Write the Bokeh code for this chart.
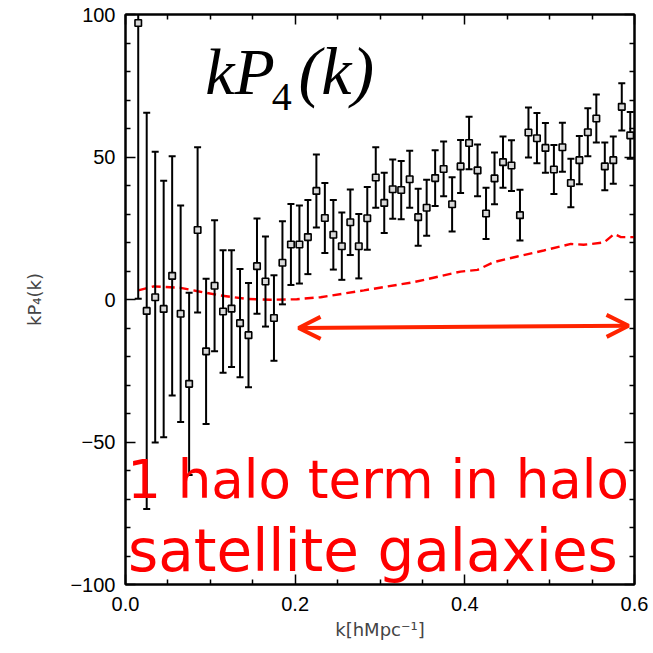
from bokeh.plotting import figure
from bokeh.models import Range1d, LinearAxis, FixedTicker, Label, Arrow, OpenHead
from bokeh.embed import file_html
from bokeh.resources import INLINE

# Measured hexadecapole, k*P4(k), with 1-sigma errors
k_vals = [0.015, 0.025, 0.035, 0.045, 0.055, 0.065, 0.075, 0.085, 0.095, 0.105,
          0.115, 0.125, 0.135, 0.145, 0.155, 0.165, 0.175, 0.185, 0.195, 0.205,
          0.215, 0.225, 0.235, 0.245, 0.255, 0.265, 0.275, 0.285, 0.295, 0.305,
          0.315, 0.325, 0.335, 0.345, 0.355, 0.365, 0.375, 0.385, 0.395, 0.405,
          0.415, 0.425, 0.435, 0.445, 0.455, 0.465, 0.475, 0.485, 0.495, 0.505,
          0.515, 0.525, 0.535, 0.545, 0.555, 0.565, 0.575, 0.585, 0.595]
kp4_vals = [97.0, -4.0, 0.8, -3.3, 8.3, -5.0, -29.6, 24.4, -18.2, 4.8,
            -4.2, -3.2, -8.3, -12.5, 11.7, 6.3, -6.5, 12.9, 19.3, 19.3,
            21.9, 38.1, 28.6, 22.7, 18.7, 27.1, 18.7, 28.5, 42.8, 33.9,
            38.7, 38.4, 42.2, 28.9, 32.2, 42.6, 45.8, 33.4, 46.7, 54.9,
            45.3, 30.2, 42.5, 48.2, 47.0, 29.6, 58.6, 56.6, 53.2, 45.6,
            53.4, 40.9, 48.9, 58.7, 63.5, 46.7, 48.9, 67.6, 57.6]
kp4_errs = [96.7, 69.5, 51.0, 45.0, 42.0, 38.0, 32.0, 29.0, 25.5, 23.0,
            21.5, 20.5, 19.0, 18.3, 16.7, 15.8, 15.0, 14.6, 14.2, 13.7,
            13.0, 12.8, 12.3, 12.2, 11.8, 11.5, 11.3, 11.0, 10.6, 10.6,
            10.4, 10.2, 10.0, 10.0, 9.8, 9.8, 9.6, 9.5, 9.3, 9.2,
            9.1, 9.0, 9.1, 9.0, 8.9, 8.9, 8.8, 8.8, 8.7, 8.6,
            8.6, 8.5, 8.5, 8.4, 8.4, 8.4, 8.3, 8.3, 8.2]

# Model prediction (dashed curve)
model_k = [0.015, 0.033, 0.065, 0.085, 0.112, 0.143, 0.171, 0.202, 0.23, 0.281,
           0.34, 0.395, 0.415, 0.434, 0.462, 0.493, 0.525, 0.54, 0.564, 0.576,
           0.584, 0.6]
model_vals = [3.2, 4.6, 4.1, 2.9, 1.4, 0.2, -0.1, 0.1, 0.8, 3.2,
              6.1, 9.8, 10.4, 13.1, 15.1, 17.2, 19.5, 19.2, 20.0, 23.0,
              21.9, 21.9]

# Range of k where the one-halo term matters
arrow_k = [0.204, 0.593]
arrow_y = [-10.0, -9.2]

x_ticks = [0.0, 0.2, 0.4, 0.6]
x_tick_labels = ["0.0", "0.2", "0.4", "0.6"]
x_minor = [0.05, 0.1, 0.15, 0.25, 0.3, 0.35, 0.45, 0.5, 0.55]
y_ticks = [-100, -50, 0, 50, 100]
y_tick_labels = ["\u2212100", "\u221250", "0", "50", "100"]
y_minor = [-90, -80, -70, -60, -40, -30, -20, -10, 10, 20, 30, 40, 60, 70, 80, 90]

lower = [v - e for v, e in zip(kp4_vals, kp4_errs)]
upper = [v + e for v, e in zip(kp4_vals, kp4_errs)]

p = figure(width=653, height=653, x_range=Range1d(0, 0.6), y_range=Range1d(-100, 100),
           output_backend="svg", toolbar_location=None,
           min_border_left=125, min_border_right=19, min_border_top=14, min_border_bottom=69)
p.grid.visible = False
p.outline_line_color = "black"
p.outline_line_width = 2
p.background_fill_color = "white"
p.border_fill_color = "white"

bottom_axis = p.below[0]
left_axis = p.left[0]
top_axis = LinearAxis()
right_axis = LinearAxis()
p.add_layout(top_axis, "above")
p.add_layout(right_axis, "right")

TICK_FONT = "Liberation Sans"


def style_axis(ax, ticks, minor, labels):
    ax.ticker = FixedTicker(ticks=ticks, minor_ticks=minor)
    ax.major_tick_in = 10
    ax.major_tick_out = 0
    ax.minor_tick_in = 5
    ax.minor_tick_out = 0
    ax.major_tick_line_width = 1.5
    ax.minor_tick_line_width = 1.5
    ax.axis_line_width = 2
    ax.axis_line_color = "black"
    ax.major_tick_line_color = "black"
    ax.minor_tick_line_color = "black"
    if labels is None:
        # mirrored axis: ticks only
        ax.major_label_text_color = None
        ax.major_label_text_font_size = "1px"
        ax.major_label_standoff = 0
    else:
        ax.major_label_overrides = {t: s for t, s in zip(ticks, labels)}
        ax.major_label_text_font = TICK_FONT
        ax.major_label_text_font_size = "20px"
        ax.major_label_text_color = "black"


style_axis(bottom_axis, x_ticks, x_minor, x_tick_labels)
style_axis(left_axis, y_ticks, y_minor, y_tick_labels)
style_axis(top_axis, x_ticks, x_minor, None)
style_axis(right_axis, y_ticks, y_minor, None)

bottom_axis.major_label_standoff = 12
left_axis.major_label_standoff = 10

bottom_axis.axis_label = "k[hMpc\u207b\u00b9]"
bottom_axis.axis_label_text_font = "DejaVu Sans"
bottom_axis.axis_label_text_font_size = "18px"
bottom_axis.axis_label_text_font_style = "normal"
bottom_axis.axis_label_standoff = 5

left_axis.axis_label = "kP\u2084(k)"
left_axis.axis_label_text_font = "DejaVu Sans"
left_axis.axis_label_text_font_size = "18px"
left_axis.axis_label_text_font_style = "normal"
left_axis.axis_label_standoff = 22

# model curve
p.line(model_k, model_vals, line_color="#ff0000", line_width=2.4, line_dash="9 5")

# error bars with caps
p.segment(x0=k_vals, y0=lower, x1=k_vals, y1=upper, line_color="black", line_width=2)
p.scatter(k_vals, lower, marker="dash", size=7, line_color="black", line_width=2)
p.scatter(k_vals, upper, marker="dash", size=7, line_color="black", line_width=2)
p.scatter(k_vals, kp4_vals, marker="square", size=6.5, fill_color="#d8d8d8",
          line_color="black", line_width=1.6)

# double-headed arrow
arrow_color = "#ff2400"
p.add_layout(Arrow(start=OpenHead(size=22, line_color=arrow_color, line_width=4),
                   end=OpenHead(size=22, line_color=arrow_color, line_width=4),
                   x_start=arrow_k[0], y_start=arrow_y[0], x_end=arrow_k[1], y_end=arrow_y[1],
                   line_color=arrow_color, line_width=4))

# panel title kP_4(k)
p.add_layout(Label(x=0.094, y=80.0, text="kP", text_font="Liberation Serif",
                   text_font_style="italic", text_font_size="66px",
                   text_baseline="alphabetic", text_color="black"))
p.add_layout(Label(x=0.1725, y=70.9, text="4", text_font="Liberation Serif",
                   text_font_size="40px", text_baseline="alphabetic", text_color="black"))
p.add_layout(Label(x=0.204, y=80.3, text="(k)", text_font="Liberation Serif",
                   text_font_style="italic", text_font_size="68px",
                   text_baseline="alphabetic", text_color="black"))

# annotation text
p.add_layout(Label(x=0.002, y=-63.3, text="1 halo term in halo", text_font="DejaVu Sans",
                   text_font_size="53px", text_baseline="alphabetic", text_color="#ff0000"))
p.add_layout(Label(x=0.003, y=-88.1, text="satellite galaxies", text_font="DejaVu Sans",
                   text_font_size="58px", text_baseline="alphabetic", text_color="#ff0000"))

open("out.html", "w").write(file_html(p, INLINE))
